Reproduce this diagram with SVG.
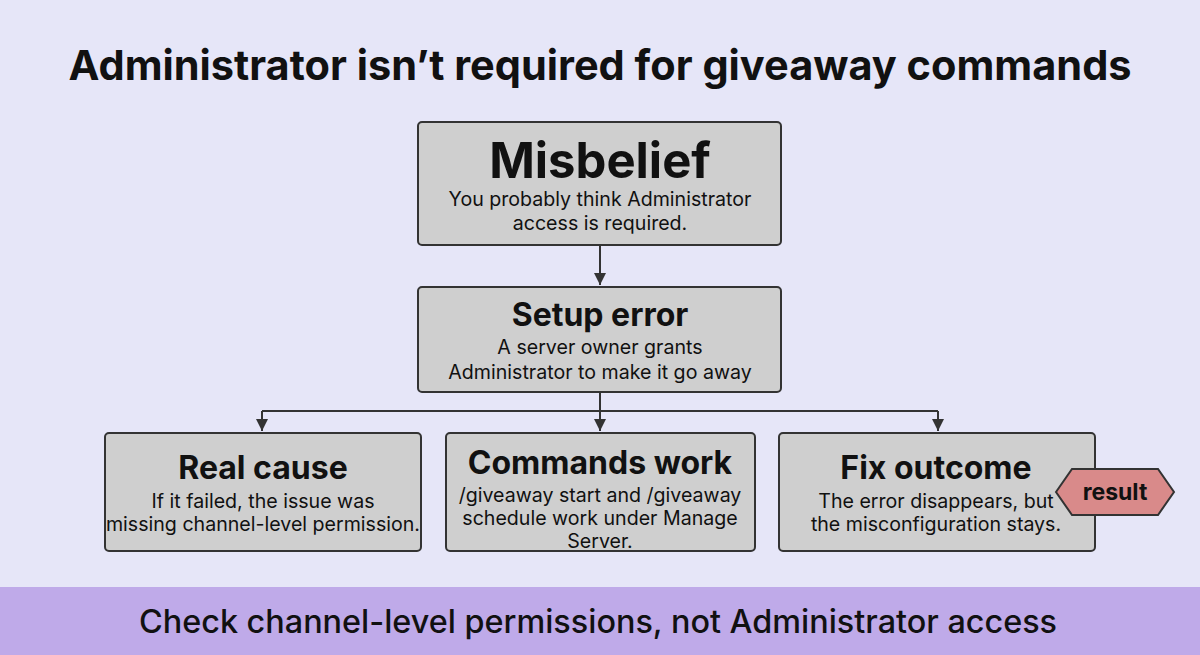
<svg xmlns="http://www.w3.org/2000/svg" width="1200" height="655" viewBox="0 0 1200 655">
<defs>
<marker id="ah" viewBox="0 0 10 10" refX="10" refY="5" markerWidth="12" markerHeight="12" markerUnits="userSpaceOnUse" orient="auto"><path d="M0,0 L10,5 L0,10 z" fill="#333"/></marker>
<style>
.box{fill:#cfcfcf;stroke:#333;stroke-width:2}
.t{font-family:Inter,"Liberation Sans",sans-serif;font-weight:700;fill:#111;text-anchor:middle}
.s{font-family:Inter,"Liberation Sans",sans-serif;font-size:19.6px;fill:#111;text-anchor:middle}
.c{fill:none;stroke:#333;stroke-width:2}
</style>
</defs>
<rect width="1200" height="655" fill="#e6e6f8"/>
<text x="600" y="80" class="t" font-size="41.5">Administrator isn’t required for giveaway commands</text>
<g id="connectors">
<path class="c" d="M600,245 V285" marker-end="url(#ah)"/>
<path class="c" d="M600,392 V431" marker-end="url(#ah)"/>
<path class="c" d="M262,411 H938"/>
<path class="c" d="M262,411 V431" marker-end="url(#ah)"/>
<path class="c" d="M938,411 V431" marker-end="url(#ah)"/>
</g>
<g id="misbelief">
<rect class="box" x="418" y="122" width="363" height="123" rx="4"/>
<text x="600" y="178" class="t" font-size="49">Misbelief</text>
<text x="600" y="206" class="s">You probably think Administrator</text>
<text x="600" y="230" class="s">access is required.</text>
</g>
<g id="setup">
<rect class="box" x="418" y="287" width="363" height="105" rx="4"/>
<text x="600" y="326" class="t" font-size="32">Setup error</text>
<text x="600" y="354" class="s">A server owner grants</text>
<text x="600" y="379" class="s">Administrator to make it go away</text>
</g>
<g id="realcause">
<rect class="box" x="105" y="433" width="316" height="118" rx="4"/>
<text x="263" y="479" class="t" font-size="32">Real cause</text>
<text x="263" y="508" class="s">If it failed, the issue was</text>
<text x="263" y="531" class="s">missing channel-level permission.</text>
</g>
<g id="commands">
<rect class="box" x="446" y="433" width="309" height="118" rx="4"/>
<text x="600" y="474" class="t" font-size="32">Commands work</text>
<text x="600" y="502" class="s">/giveaway start and /giveaway</text>
<text x="600" y="525" class="s">schedule work under Manage</text>
<text x="600" y="548" class="s">Server.</text>
</g>
<g id="fixoutcome">
<rect class="box" x="779" y="433" width="316" height="118" rx="4"/>
<text x="936" y="479" class="t" font-size="32">Fix outcome</text>
<text x="936" y="508" class="s">The error disappears, but</text>
<text x="936" y="531" class="s">the misconfiguration stays.</text>
</g>
<g id="result">
<polygon points="1056,492 1072,469 1158,469 1174,492 1158,515 1072,515" fill="#d98a8a" stroke="#333" stroke-width="2"/>
<text x="1115" y="500" class="t" font-size="23">result</text>
</g>
<g id="footer">
<rect x="0" y="587" width="1200" height="68" fill="#bfaae9"/>
<text x="598" y="633" font-family="Inter,'Liberation Sans',sans-serif" font-size="32" font-weight="500" fill="#111" text-anchor="middle" textLength="918" lengthAdjust="spacingAndGlyphs">Check channel-level permissions, not Administrator access</text>
</g>
</svg>
